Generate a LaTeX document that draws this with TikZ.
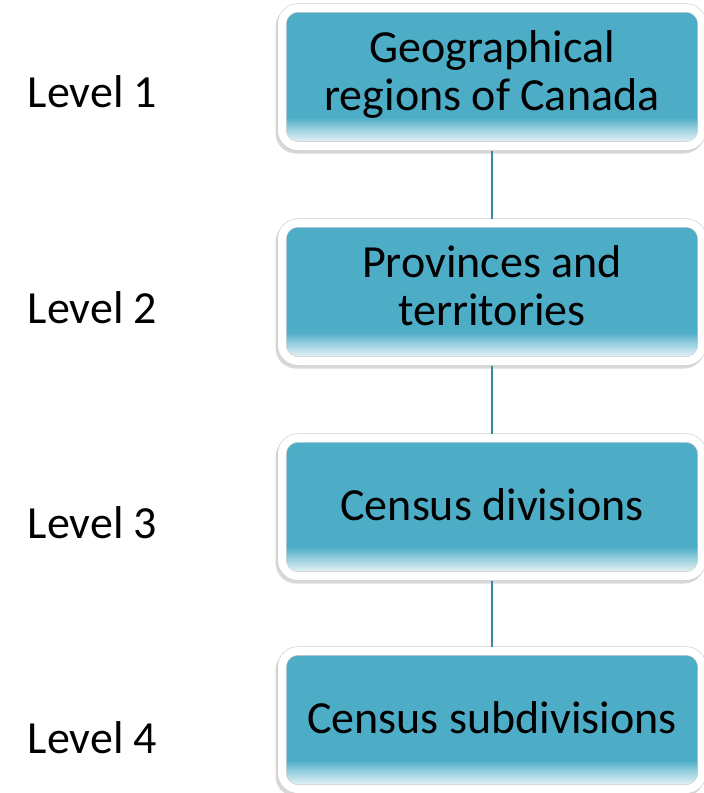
\documentclass[tikz,border=0pt]{standalone}
\usepackage{fontspec}
\setmainfont{Carlito}
\usepackage{tikz}
\usetikzlibrary{shapes,shadows}
\definecolor{boxteal}{RGB}{77,172,198}
\definecolor{linkteal}{RGB}{58,136,160}
\pgfdeclareverticalshading{boxfade}{100bp}{color(0bp)=(boxteal!8); color(26bp)=(boxteal!10); color(31bp)=(boxteal!55); color(35.5bp)=(boxteal); color(100bp)=(boxteal)}
\tikzstyle{level} = [rectangle, rounded corners=16pt, shading=boxfade, draw=gray!40, line width=0.6pt,
    double=white, double distance=8pt, minimum width=420pt, minimum height=138pt, inner sep=0pt,
    outer sep=4.5pt, align=center, font=\fontsize{46}{48}\selectfont,
    execute at begin node={\rule[-13pt]{0pt}{52pt}},
    drop shadow={shadow xshift=-2pt, shadow yshift=-3pt, opacity=0.22, fill=black!70, draw=black!70, line width=9pt}]
\tikzstyle{tag} = [font=\fontsize{46}{48}\selectfont, anchor=base, inner sep=0pt]

\begin{document}
\begin{tikzpicture}[x=1pt, y=-1pt]
	\useasboundingbox (0,0) rectangle (704,793);

	% Place nodes
	\node [level] at (492,77) (regions) {Geographical\\regions of Canada};
	\node [level] at (492,292) (provinces) {Provinces and\\territories};
	\node [level] at (492,507) (divisions) {Census divisions};
	\node [level] at (492,720) (subdivisions) {Census subdivisions};

	\node [tag] at (92.5,107) (lvl1) {Level 1};
	\node [tag] at (92.5,323) (lvl2) {Level 2};
	\node [tag] at (92.5,538) (lvl3) {Level 3};
	\node [tag] at (92.5,753) (lvl4) {Level 4};

	\draw[linkteal, line width=2pt](regions)--(provinces);
	\draw[linkteal, line width=2pt](provinces)--(divisions);
	\draw[linkteal, line width=2pt](divisions)--(subdivisions);
\end{tikzpicture}
\end{document}
